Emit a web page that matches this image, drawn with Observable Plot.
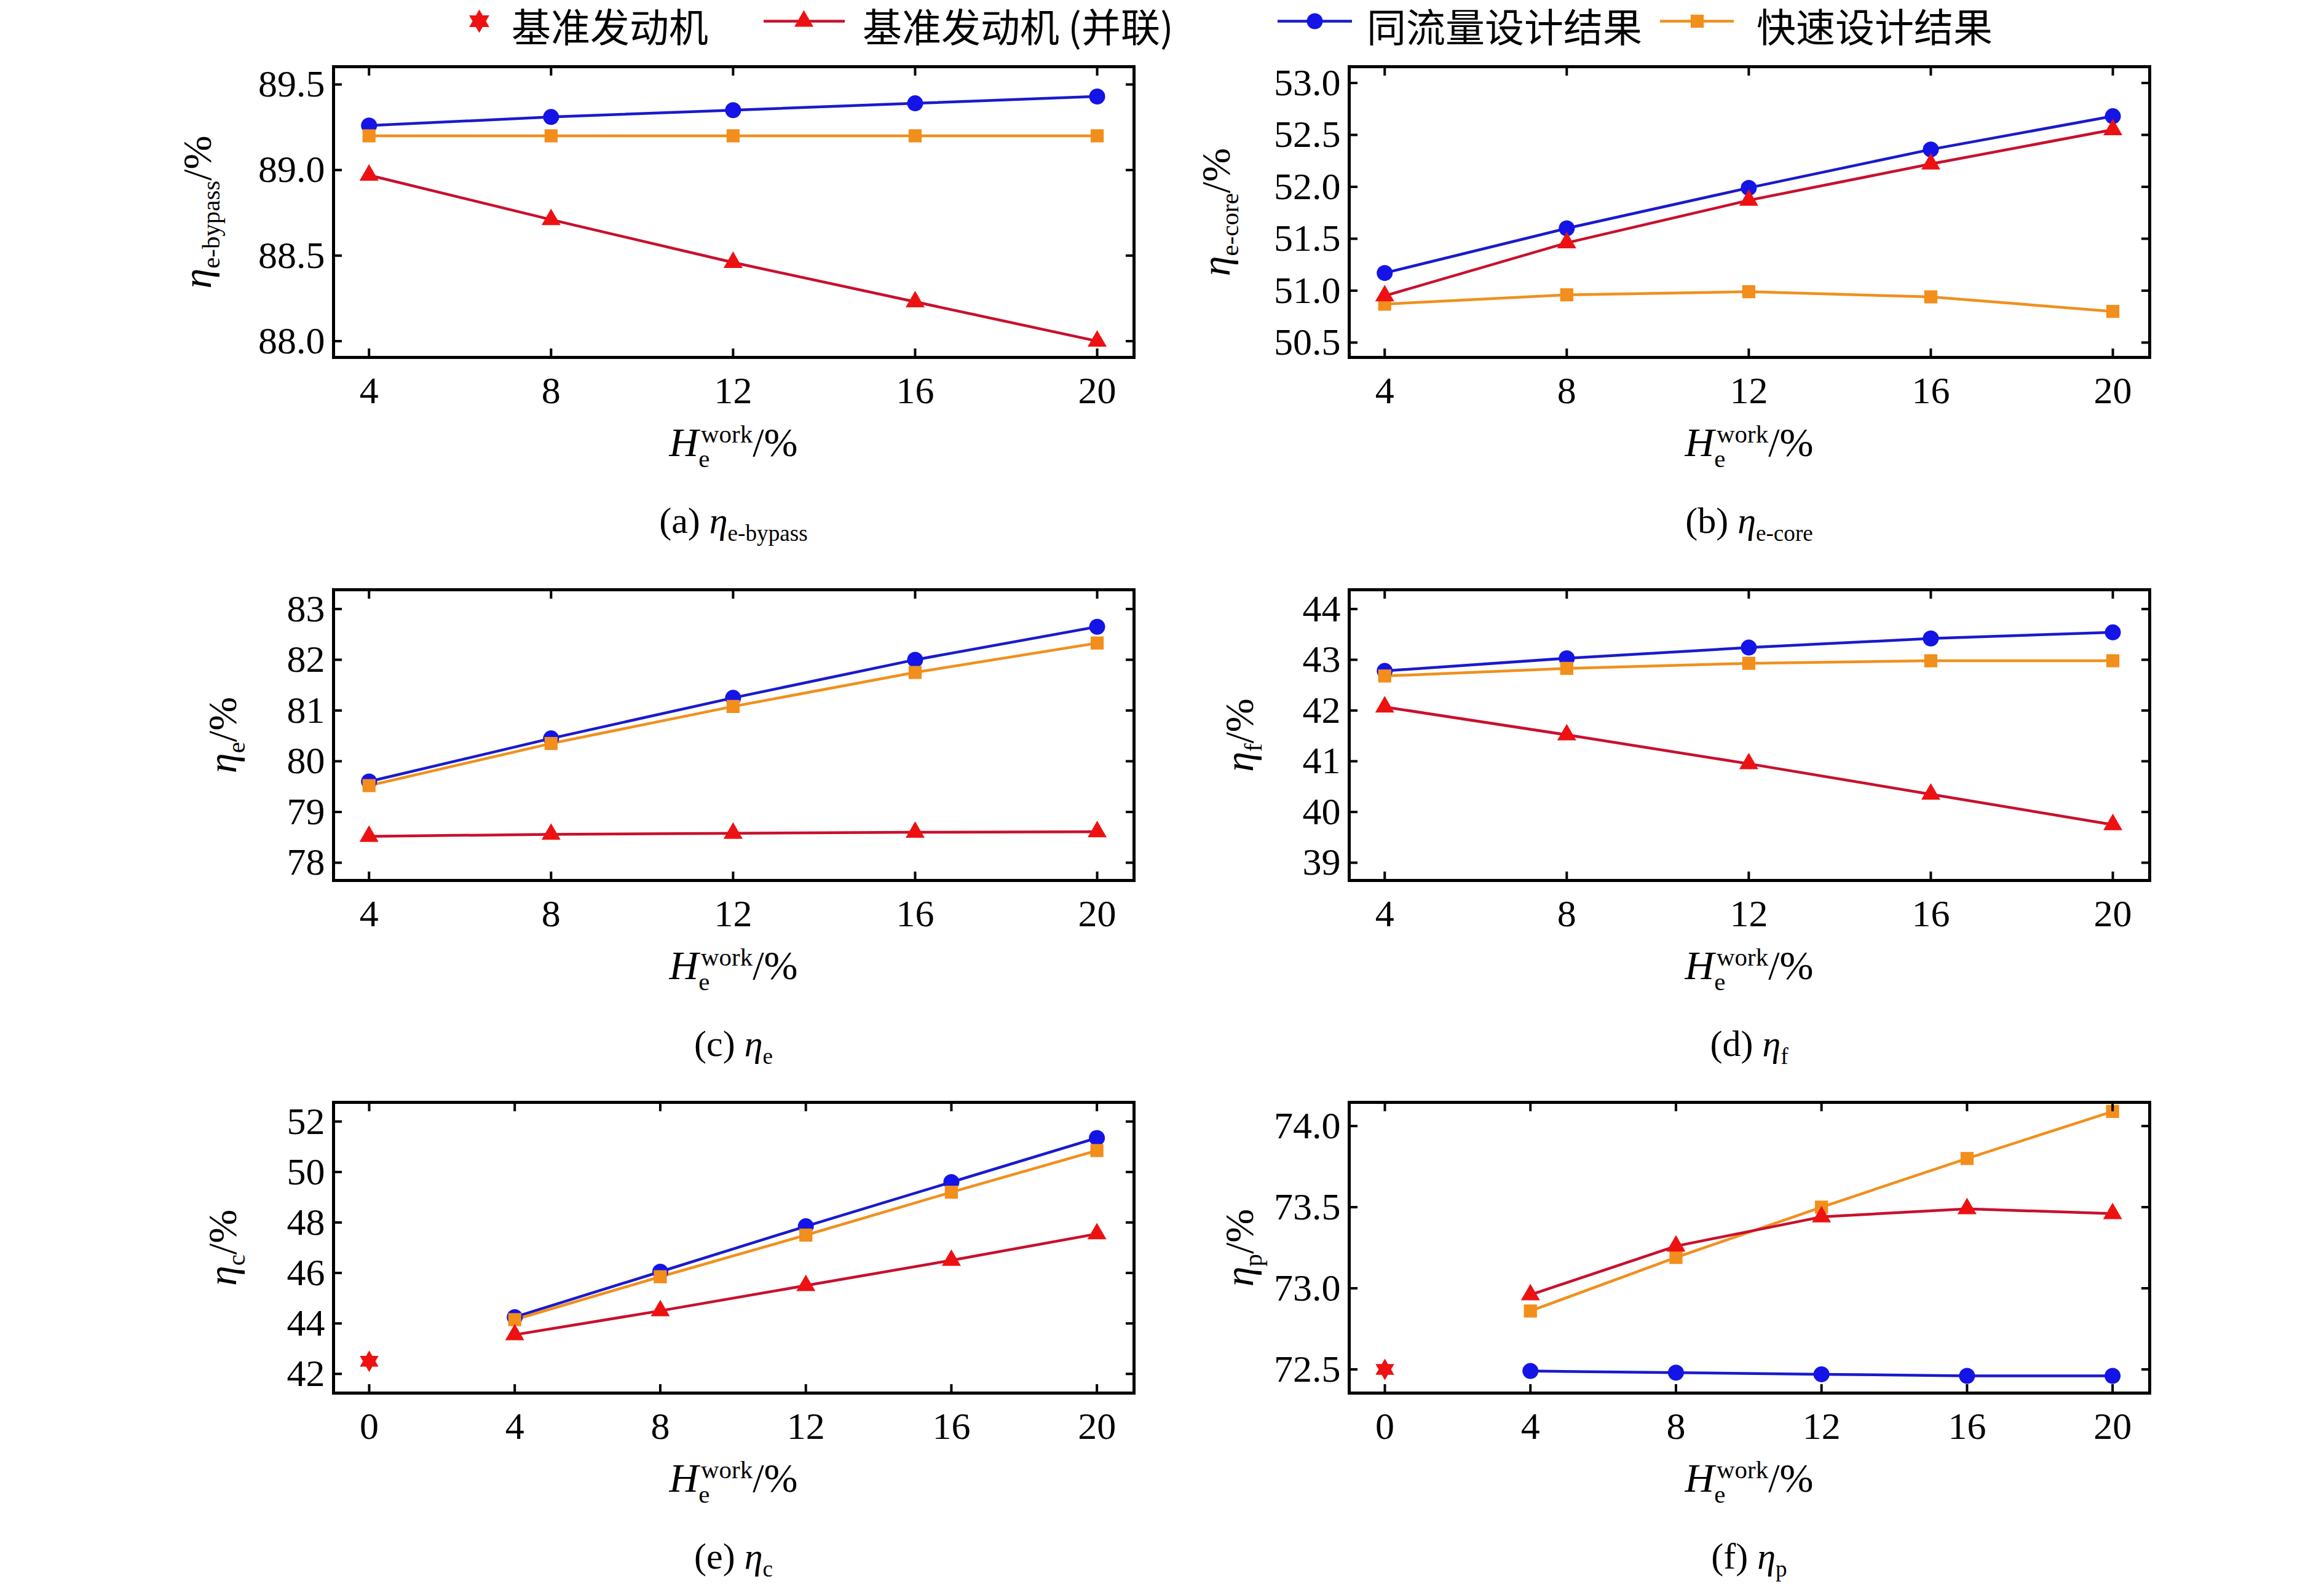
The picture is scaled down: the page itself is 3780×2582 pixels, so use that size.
<!DOCTYPE html>
<html><head><meta charset="utf-8">
<script src="https://cdn.jsdelivr.net/npm/d3@7"></script>
<script src="https://cdn.jsdelivr.net/npm/@observablehq/plot@0.6"></script>
<style>
body{margin:0;background:#fff;width:3780px;height:2582px;position:relative;overflow:hidden;font-family:"Liberation Serif","Times New Roman","DejaVu Serif",serif;}
.abs{position:absolute;white-space:nowrap;color:#000;font-family:"Liberation Serif","Times New Roman","DejaVu Serif",serif;}
.lab{font-size:66px;transform:translate(-50%,-50%);}
.ylab{font-size:66px;transform:translate(-50%,-50%) rotate(-90deg);}
.cap{font-size:60px;transform:translate(-50%,-50%);}
sub,sup{font-size:0.62em;}
.leg{font-family:"Noto Sans CJK SC","Liberation Serif",serif;font-size:64px;}
svg text{font-family:"Liberation Serif","Times New Roman","DejaVu Serif",serif;}
</style></head><body>
<div id="root"></div>
<script>
const xs = [4, 8, 12, 16, 20];
const xTicksA = [4, 8, 12, 16, 20];
const xTicksE = [0, 4, 8, 12, 16, 20];

const aBlue = [89.26, 89.31, 89.35, 89.39, 89.43];
const aOrange = [89.20, 89.20, 89.20, 89.20, 89.20];
const aRed = [88.97, 88.71, 88.46, 88.23, 88.00];
const aTicks = [88.0, 88.5, 89.0, 89.5];

const bBlue = [51.17, 51.60, 51.99, 52.36, 52.68];
const bOrange = [50.87, 50.96, 50.99, 50.94, 50.80];
const bRed = [50.95, 51.46, 51.87, 52.22, 52.55];
const bTicks = [50.5, 51.0, 51.5, 52.0, 52.5, 53.0];

const cBlue = [79.60, 80.45, 81.25, 82.00, 82.65];
const cOrange = [79.52, 80.35, 81.08, 81.75, 82.33];
const cRed = [78.52, 78.56, 78.58, 78.60, 78.61];
const cTicks = [78, 79, 80, 81, 82, 83];

const dBlue = [42.78, 43.03, 43.24, 43.42, 43.54];
const dOrange = [42.68, 42.83, 42.93, 42.98, 42.98];
const dRed = [42.07, 41.52, 40.95, 40.35, 39.75];
const dTicks = [39, 40, 41, 42, 43, 44];

const eBlue = [44.25, 46.05, 47.85, 49.60, 51.35];
const eOrange = [44.15, 45.85, 47.50, 49.20, 50.85];
const eRed = [43.55, 44.50, 45.50, 46.50, 47.55];
const eBase = 42.5;
const eTicks = [42, 44, 46, 48, 50, 52];

const fBlue = [72.49, 72.48, 72.47, 72.46, 72.46];
const fOrange = [72.86, 73.19, 73.50, 73.80, 74.09];
const fRed = [72.96, 73.26, 73.44, 73.49, 73.46];
const fBase = 72.5;
const fTicks = [72.5, 73.0, 73.5, 74.0];

const legendNames = ["基准发动机", "基准发动机 (并联)", "同流量设计结果", "快速设计结果"];

const C = {blue:"#1414e6", blueLine:"#1a1acc", red:"#ee1111", redLine:"#c8102e", orange:"#f28e1c", orangeLine:"#f0901e"};
const SERIF = "Liberation Serif, Times New Roman, DejaVu Serif, serif";

const hexagram = {draw(ctx, size){
  const r = Math.sqrt(size/Math.PI)*1.35, ri = r/Math.sqrt(3);
  for(let i=0;i<12;i++){const a=-Math.PI/2+i*Math.PI/6, rr=i%2?ri:r;
    const px=rr*Math.cos(a), py=rr*Math.sin(a); i?ctx.lineTo(px,py):ctx.moveTo(px,py);}
  ctx.closePath();}};

const root = document.getElementById("root");
function add(cls, html, x, y){const d=document.createElement("div");d.className="abs "+cls;d.innerHTML=html;d.style.left=x+"px";d.style.top=y+"px";root.appendChild(d);}

const ML=200, MR=40, MT=40, MB=120, TS=14;
function panel(o){
  const W=1302, H=473;
  const rows = s => xs.map((x,i)=>({x, y:s[i]}));
  const marks = [
    Plot.line(rows(o.blue),{x:"x",y:"y",stroke:C.blueLine,strokeWidth:4.5}),
    Plot.line(rows(o.orange),{x:"x",y:"y",stroke:C.orangeLine,strokeWidth:4.5}),
    Plot.line(rows(o.red),{x:"x",y:"y",stroke:C.redLine,strokeWidth:4.5}),
    Plot.dot(rows(o.blue),{x:"x",y:"y",fill:C.blue,r:13,symbol:"circle"}),
    Plot.dot(rows(o.orange),{x:"x",y:"y",fill:C.orange,r:12,symbol:"square"}),
    Plot.dot(rows(o.red),{x:"x",y:"y",fill:C.red,r:11.5,symbol:"triangle"}),
  ];
  if(o.base!==undefined) marks.push(Plot.dot([{x:0,y:o.base}],{x:"x",y:"y",fill:C.red,r:13,symbol:hexagram}));
  const blank = () => "";
  marks.push(
    Plot.axisX({ticks:o.xt,tickSize:0,tickPadding:30,fontSize:62,tickFormat:d=>d,fontFamily:SERIF}),
    Plot.axisX({ticks:o.xt,tickSize:TS,dy:-TS,tickFormat:blank,strokeWidth:4}),
    Plot.axisX({anchor:"top",ticks:o.xt,tickSize:TS,dy:TS,tickFormat:blank,strokeWidth:4}),
    Plot.axisY({ticks:o.yt,tickSize:0,tickPadding:14,fontSize:62,tickFormat:o.fmt,fontFamily:SERIF}),
    Plot.axisY({ticks:o.yt,tickSize:TS,dx:TS,tickFormat:blank,strokeWidth:4}),
    Plot.axisY({anchor:"right",ticks:o.yt,tickSize:TS,dx:-TS,tickFormat:blank,strokeWidth:4}),
    Plot.frame({stroke:"#000",strokeWidth:5})
  );
  const p = Plot.plot({width:W+ML+MR,height:H+MT+MB,marginLeft:ML,marginRight:MR,marginTop:MT,marginBottom:MB,
    style:{fontFamily:SERIF,fontSize:"62px",background:"transparent",color:"#000",overflow:"visible"},
    x:{domain:o.xd,label:null},y:{domain:o.yd,label:null},marks});
  p.style.position="absolute";p.style.left=(o.left-ML)+"px";p.style.top=(o.top-MT)+"px";
  root.appendChild(p);
  const cx=o.left+W/2;
  add("lab",'<i>H</i><sub style="vertical-align:-0.45em">e</sub><sup style="margin-left:-0.35em;vertical-align:0.55em">work</sup>/%',cx,o.top+H+145);
  add("cap",o.cap,cx,o.top+H+270);
  add("ylab",o.ylab,o.yl,o.top+H/2);
}
const f1=d3.format(".1f"), f0=d3.format("d");
const L1=542, L2=2194, T1=108, T2=959, T3=1793;
panel({left:L1,top:T1,xd:[3.22,20.81],yd:[87.905,89.604],xt:xTicksA,yt:aTicks,fmt:f1,blue:aBlue,orange:aOrange,red:aRed,
  ylab:'<i>η</i><sub>e-bypass</sub>/%',yl:325,cap:'(a) <i>η</i><sub>e-bypass</sub>'});
panel({left:L2,top:T1,xd:[3.22,20.81],yd:[50.357,53.157],xt:xTicksA,yt:bTicks,fmt:f1,blue:bBlue,orange:bOrange,red:bRed,
  ylab:'<i>η</i><sub>e-core</sub>/%',yl:1982,cap:'(b) <i>η</i><sub>e-core</sub>'});
panel({left:L1,top:T2,xd:[3.22,20.81],yd:[77.65,83.38],xt:xTicksA,yt:cTicks,fmt:f0,blue:cBlue,orange:cOrange,red:cRed,
  ylab:'<i>η</i><sub>e</sub>/%',yl:366,cap:'(c) <i>η</i><sub>e</sub>'});
panel({left:L2,top:T2,xd:[3.22,20.81],yd:[38.65,44.38],xt:xTicksA,yt:dTicks,fmt:f0,blue:dBlue,orange:dOrange,red:dRed,
  ylab:'<i>η</i><sub>f</sub>/%',yl:2020,cap:'(d) <i>η</i><sub>f</sub>'});
panel({left:L1,top:T3,xd:[-0.98,21.02],yd:[41.24,52.76],xt:xTicksE,yt:eTicks,fmt:f0,blue:eBlue,orange:eOrange,red:eRed,base:eBase,
  ylab:'<i>η</i><sub>c</sub>/%',yl:366,cap:'(e) <i>η</i><sub>c</sub>'});
panel({left:L2,top:T3,xd:[-0.98,21.02],yd:[72.354,74.146],xt:xTicksE,yt:fTicks,fmt:f1,blue:fBlue,orange:fOrange,red:fRed,base:fBase,
  ylab:'<i>η</i><sub>p</sub>/%',yl:2020,cap:'(f) <i>η</i><sub>p</sub>'});

// legend
const lg = Plot.plot({width:2400,height:80,margin:0,x:{domain:[0,2400]},y:{domain:[0,80]},
  style:{background:"transparent"},
  marks:[
    Plot.ruleY([40],{x1:1242-700,x2:1374-700,stroke:C.redLine,strokeWidth:4.5}),
    Plot.ruleY([40],{x1:2078-700,x2:2199-700,stroke:C.blueLine,strokeWidth:4.5}),
    Plot.ruleY([40],{x1:2700-700,x2:2820-700,stroke:C.orangeLine,strokeWidth:4.5}),
    Plot.dot([0],{x:779-700,y:40,fill:C.red,r:14,symbol:hexagram}),
    Plot.dot([0],{x:1307-700,y:40,fill:C.red,r:11.5,symbol:"triangle"}),
    Plot.dot([0],{x:2138-700,y:40,fill:C.blue,r:13,symbol:"circle"}),
    Plot.dot([0],{x:2760-700,y:40,fill:C.orange,r:12,symbol:"square"})
  ]});
lg.style.position="absolute";lg.style.left="700px";lg.style.top="-6px";root.appendChild(lg);
[[832,0],[1403,1],[2223,2],[2857,3]].forEach(([x,i])=>add("leg",legendNames[i],x,-6));
</script>
</body></html>
